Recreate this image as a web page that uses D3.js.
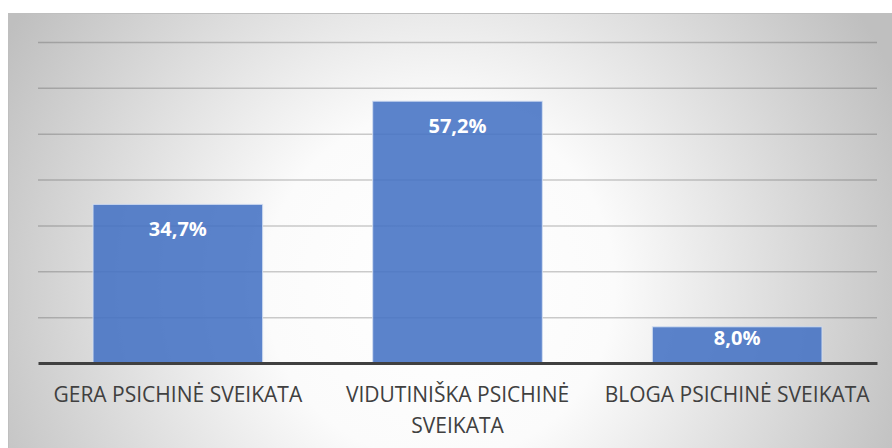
<!DOCTYPE html>
<html>
<head>
<meta charset="utf-8">
<script src="https://cdn.jsdelivr.net/npm/d3@7"></script>
<style>
  html, body { margin: 0; padding: 0; background: #ffffff; }
  svg { display: block; }
</style>
</head>
<body>
<svg id="chart" width="892" height="448"></svg>
<script>
// Psychinės sveikatos vertinimas, %
const categories = ["GERA PSICHINĖ SVEIKATA", "VIDUTINIŠKA PSICHINĖ SVEIKATA", "BLOGA PSICHINĖ SVEIKATA"];
const values = [34.7, 57.2, 8.0];
const yTicks = [0, 10, 20, 30, 40, 50, 60, 70];

const W = 892, H = 448;
const plot = { left: 38, right: 877, top: 42, bottom: 363 };

const svg = d3.select("#chart");
const defs = svg.append("defs");

// soft radial fill of the chart area
const grad = defs.append("radialGradient")
  .attr("id", "bg")
  .attr("gradientUnits", "userSpaceOnUse")
  .attr("cx", 440).attr("cy", 285).attr("r", 500);
grad.append("stop").attr("offset", 0).attr("stop-color", "#ffffff");
grad.append("stop").attr("offset", 0.35).attr("stop-color", "#fbfbfb");
grad.append("stop").attr("offset", 1).attr("stop-color", "#bfbfbf");

svg.append("rect")
  .attr("x", 8.5).attr("y", 13.5)
  .attr("width", W).attr("height", H)
  .attr("fill", "url(#bg)")
  .attr("stroke", "#bfbfbf").attr("stroke-width", 1);

const x = d3.scaleBand()
  .domain(categories)
  .range([plot.left, plot.right])
  .paddingInner(0.39)
  .paddingOuter(0.195);

const y = d3.scaleLinear()
  .domain([0, 70])
  .range([plot.bottom, plot.top]);

// horizontal gridlines
const grid = d3.axisLeft(y)
  .tickValues(yTicks.filter(d => d > 0))
  .tickSize(-(plot.right - plot.left))
  .tickFormat("");
const gridG = svg.append("g")
  .attr("transform", `translate(${plot.left},0)`)
  .call(grid);
gridG.select(".domain").remove();
gridG.selectAll(".tick line")
  .attr("stroke", "rgba(40,40,40,0.24)")
  .attr("stroke-width", 1.5);

// bars
svg.append("g").selectAll("rect")
  .data(values)
  .join("rect")
  .attr("x", (d, i) => x(categories[i]) + 0.5)
  .attr("y", d => y(d) + 0.5)
  .attr("width", x.bandwidth() - 1)
  .attr("height", d => y(0) - y(d) - 0.5)
  .attr("fill", "rgba(68,114,196,0.88)")
  .attr("stroke", "rgba(210,222,242,0.9)")
  .attr("stroke-width", 1);

// baseline axis
const xAxis = d3.axisBottom(x).tickSize(0).tickFormat("");
const axisG = svg.append("g")
  .attr("transform", `translate(0,${y(0)})`)
  .call(xAxis);
axisG.select(".domain")
  .attr("stroke", "#404040")
  .attr("stroke-width", 3);

// value labels
const fmt = v => v.toFixed(1).replace(".", ",") + "%";
svg.append("g").selectAll("text")
  .data(values)
  .join("text")
  .attr("x", (d, i) => x(categories[i]) + x.bandwidth() / 2)
  .attr("y", d => y(d) + Math.min(32, (y(0) - y(d)) / 2))
  .attr("text-anchor", "middle")
  .attr("font-family", "'Open Sans', sans-serif")
  .attr("font-weight", "bold")
  .attr("font-size", 20)
  .attr("fill", "#ffffff")
  .text(fmt);

// category labels, wrapped to the band width
const labelG = svg.append("g");
categories.forEach((c, i) => {
  const cx = x(c) + x.bandwidth() / 2;
  const t = labelG.append("text")
    .attr("x", cx)
    .attr("y", 402)
    .attr("text-anchor", "middle")
    .attr("font-family", "'Open Sans', sans-serif")
    .attr("font-size", 21)
    .attr("fill", "#404040");
  const words = c.split(" ");
  let line = [];
  let tspan = t.append("tspan").attr("x", cx).attr("dy", 0);
  words.forEach(w => {
    line.push(w);
    tspan.text(line.join(" "));
    if (tspan.node().getComputedTextLength() > x.step() - 6 && line.length > 1) {
      line.pop();
      tspan.text(line.join(" "));
      line = [w];
      tspan = t.append("tspan")
        .attr("x", cx)
        .attr("dy", 31)
        .text(w);
    }
  });
});
</script>
</body>
</html>
